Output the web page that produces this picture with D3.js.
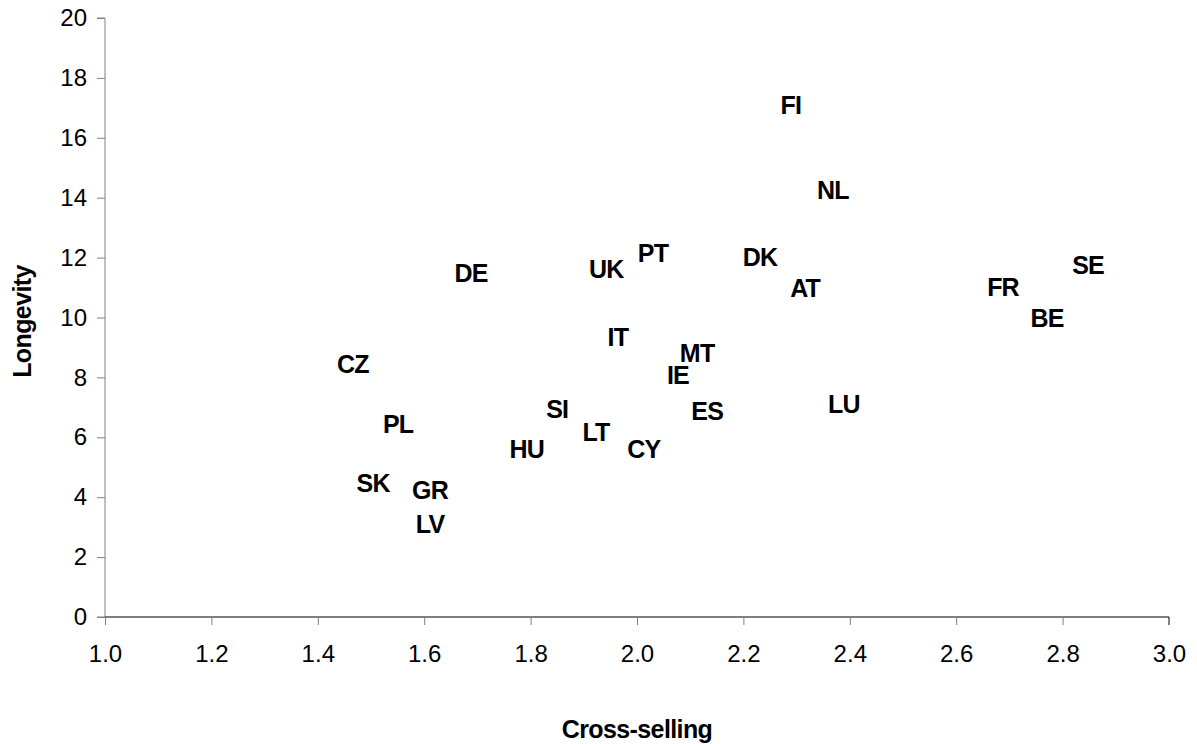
<!DOCTYPE html>
<html>
<head>
<meta charset="utf-8">
<script src="https://cdn.jsdelivr.net/npm/d3@7"></script>
<style>
  html, body { margin: 0; padding: 0; background: #fff; }
  svg { display: block; font-family: "Liberation Sans", Arial, sans-serif; }
</style>
</head>
<body>
<svg id="chart" width="1197" height="744"></svg>
<script>
const countries = ["FI","NL","PT","DK","UK","DE","SE","AT","FR","BE","IT","MT","CZ","IE","LU","ES","SI","PL","LT","HU","CY","SK","GR","LV"];
const crossSelling = [2.289,2.368,2.030,2.231,1.942,1.688,2.848,2.316,2.688,2.771,1.964,2.113,1.466,2.077,2.389,2.132,1.850,1.551,1.923,1.793,2.013,1.504,1.611,1.611];
const longevity = [17.1,14.27,12.16,12.03,11.63,11.5,11.76,10.99,11.03,9.99,9.36,8.83,8.46,8.09,7.12,6.89,6.96,6.45,6.19,5.62,5.62,4.48,4.25,3.12];
const xTicks = [1.0,1.2,1.4,1.6,1.8,2.0,2.2,2.4,2.6,2.8,3.0];
const yTicks = [0,2,4,6,8,10,12,14,16,18,20];

const svg = d3.select("#chart");
const mLeft = 105, mRight = 1169, mTop = 18, mBottom = 617;

const x = d3.scaleLinear().domain([1.0, 3.0]).range([mLeft, mRight]);
const y = d3.scaleLinear().domain([0, 20]).range([mBottom, mTop]);

// Y axis
const yAxis = svg.append("g").attr("transform", `translate(${mLeft},0)`)
  .call(d3.axisLeft(y).tickValues(yTicks).tickFormat(d3.format("d")).tickSize(8).tickPadding(10));
yAxis.select(".domain").attr("stroke", "#808080").attr("d", `M-8,${mTop}H0V${mBottom}H-8`);
yAxis.selectAll(".tick line").attr("stroke", "#808080");
yAxis.selectAll(".tick text").attr("font-size", 24).attr("fill", "#000")
  .attr("font-family", "'Liberation Sans', Arial, sans-serif");

// X axis
const xAxis = svg.append("g").attr("transform", `translate(0,${mBottom})`)
  .call(d3.axisBottom(x).tickValues(xTicks).tickFormat(d3.format(".1f")).tickSize(8).tickPadding(20));
xAxis.select(".domain").attr("stroke", "#000").attr("d", `M${mLeft},0H${mRight}V8`);
xAxis.selectAll(".tick line").attr("stroke", "#808080");
xAxis.selectAll(".tick text").attr("font-size", 24).attr("fill", "#000")
  .attr("font-family", "'Liberation Sans', Arial, sans-serif");

// Labels
svg.append("g").selectAll("text")
  .data(countries.map((c, i) => ({c, x: crossSelling[i], y: longevity[i]})))
  .join("text")
  .attr("x", d => x(d.x))
  .attr("y", d => y(d.y))
  .attr("dy", "0.36em")
  .attr("text-anchor", "middle")
  .attr("font-size", 25)
  .attr("font-weight", "bold")
  .attr("letter-spacing", "-0.8px")
  .attr("fill", "#000")
  .text(d => d.c);

// Axis titles
svg.append("text")
  .attr("x", (mLeft + mRight) / 2).attr("y", 738)
  .attr("text-anchor", "middle").attr("font-size", 25).attr("font-weight", "bold")
  .attr("letter-spacing", "-0.6px")
  .text("Cross-selling");

svg.append("text")
  .attr("transform", `translate(31,${(mTop + mBottom) / 2 + 4}) rotate(-90)`)
  .attr("text-anchor", "middle").attr("font-size", 25).attr("font-weight", "bold")
  .attr("letter-spacing", "-0.6px")
  .text("Longevity");
</script>
</body>
</html>
